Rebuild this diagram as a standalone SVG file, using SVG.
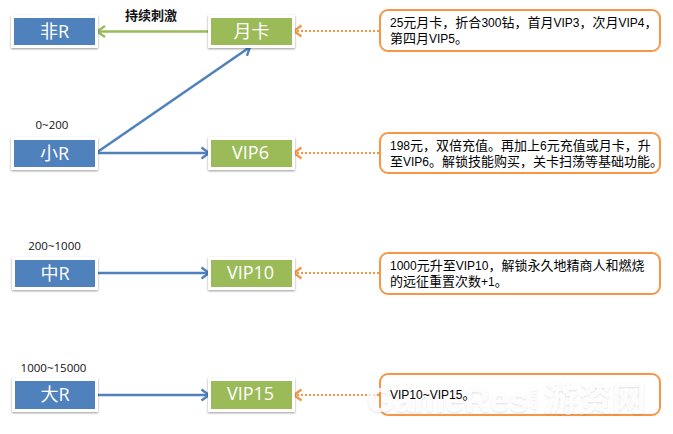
<svg xmlns="http://www.w3.org/2000/svg" width="673" height="434" viewBox="0 0 673 434">
<style>
text{font-family:"Liberation Sans","Noto Sans CJK SC",sans-serif}
.frame{fill:#fff;filter:url(#sh)}
.b{fill:#4f81bd}
.g{fill:#9bbb59}
.nl{fill:#fff;font-size:18px;text-anchor:middle;font-family:"Open Sans","Noto Sans CJK SC",sans-serif}
.note{fill:#fff;stroke:#f79646;stroke-width:2}
.nt{fill:#000;font-size:13px;font-family:"Noto Sans CJK SC",sans-serif}
.nt tspan{font-size:12px;font-family:"Liberation Sans",sans-serif}
.rng{fill:#111;font-size:11.500px;text-anchor:middle;font-family:"Open Sans",sans-serif}
.bl{stroke:#4f81bd;stroke-width:2.600;fill:none;marker-end:url(#ab)}
.gr{stroke:#9bbb59;stroke-width:2.600;fill:none}
.or{stroke:#f79646;stroke-width:2.200;stroke-dasharray:2 2;fill:none;marker-end:url(#ao)}
.wm{fill:#fff;fill-opacity:.8;font-weight:700}
</style>
<defs>
<filter id="sh" x="-10%" y="-20%" width="120%" height="150%"><feDropShadow dx="0" dy="1" stdDeviation="1" flood-color="#000" flood-opacity=".4"/></filter>
<filter id="wm" x="-5%" y="-20%" width="110%" height="140%"><feDropShadow dx="0" dy="1" stdDeviation="1" flood-color="#000" flood-opacity=".16"/></filter>
<marker id="ab" markerUnits="userSpaceOnUse" markerWidth="12" markerHeight="14" refX="9.500" refY="7" orient="auto"><path d="M2 1.500L9.500 7L2 12.500" fill="none" stroke="#4f81bd" stroke-width="2.400"/></marker>
<marker id="ao" markerUnits="userSpaceOnUse" markerWidth="12" markerHeight="14" refX="9.500" refY="7" orient="auto"><path d="M2 1.500L9.500 7L2 12.500" fill="none" stroke="#f79646" stroke-width="2.400"/></marker>
</defs>
<g id="connectors">
<path class="gr" d="M210 31.500H97"/>
<path d="M105 26L97 31.500L105 37" fill="none" stroke="#9bbb59" stroke-width="2.400"/>
<path class="bl" d="M96 153L250 47"/>
<path class="bl" d="M96 153H209"/>
<path class="bl" d="M96 273H209"/>
<path class="bl" d="M96 395H209"/>
<path class="or" d="M379 31H294"/>
<path class="or" d="M379 153H294"/>
<path class="or" d="M379 273H294"/>
<path class="or" d="M379 395H294"/>
</g>
<g id="node-feir"><rect class="frame" x="11" y="15" width="87" height="33"/><rect class="b" x="14" y="18" width="81" height="27"/><text class="nl" x="54.500" y="38">非R</text></g>
<g id="node-yueka"><rect class="frame" x="208" y="15" width="87" height="33"/><rect class="g" x="211" y="18" width="81" height="27"/><text class="nl" x="251.500" y="38">月卡</text></g>
<g id="node-xiaor"><rect class="frame" x="11" y="137" width="87" height="33"/><rect class="b" x="14" y="140" width="81" height="27"/><text class="nl" x="54.500" y="160">小R</text></g>
<g id="node-vip6"><rect class="frame" x="208" y="137" width="87" height="33"/><rect class="g" x="211" y="140" width="81" height="27"/><text class="nl" x="250.500" y="159">VIP6</text></g>
<g id="node-zhongr"><rect class="frame" x="12" y="257" width="86" height="33"/><rect class="b" x="15" y="260" width="80" height="27"/><text class="nl" x="55" y="280">中R</text></g>
<g id="node-vip10"><rect class="frame" x="208" y="257" width="87" height="33"/><rect class="g" x="211" y="260" width="81" height="27"/><text class="nl" x="250.500" y="279">VIP10</text></g>
<g id="node-dar"><rect class="frame" x="12" y="378" width="86" height="34"/><rect class="b" x="15" y="381" width="80" height="28"/><text class="nl" x="55" y="401">大R</text></g>
<g id="node-vip15"><rect class="frame" x="208" y="378" width="87" height="34"/><rect class="g" x="211" y="381" width="81" height="28"/><text class="nl" x="250.500" y="400">VIP15</text></g>
<text x="151" y="20" font-size="13" font-weight="700" fill="#111" text-anchor="middle" style="font-family:'Noto Sans CJK SC',sans-serif">持续刺激</text>
<text class="rng" x="52" y="129">0~200</text>
<text class="rng" x="54.500" y="250">200~1000</text>
<text class="rng" x="53.500" y="372">1000~15000</text>
<g id="note-1"><rect class="note" x="380" y="10" width="280" height="41" rx="8"/><text class="nt" x="390" y="27"><tspan>25</tspan>元月卡，折合<tspan>300</tspan>钻，首月<tspan>VIP3</tspan>，次月<tspan>VIP4</tspan>，</text><text class="nt" x="390" y="43">第四月<tspan>VIP5</tspan>。</text></g>
<g id="note-2"><rect class="note" x="380" y="133" width="280" height="40" rx="8"/><text class="nt" x="390" y="150"><tspan>198</tspan>元，双倍充值。再加上<tspan>6</tspan>元充值或月卡，升</text><text class="nt" x="390" y="166">至<tspan>VIP6</tspan>。解锁技能购买，关卡扫荡等基础功能。</text></g>
<g id="note-3"><rect class="note" x="380" y="253" width="280" height="41" rx="8"/><text class="nt" x="390" y="270"><tspan>1000</tspan>元升至<tspan>VIP10</tspan>，解锁永久地精商人和燃烧</text><text class="nt" x="390" y="286">的远征重置次数<tspan>+1</tspan>。</text></g>
<g id="note-4"><rect class="note" x="380" y="374" width="280" height="41" rx="8"/>
<g id="watermark" filter="url(#wm)"><text class="wm" x="367" y="412" font-size="35">GameRes</text><text class="wm" x="0" y="0" font-size="10" transform="translate(537 412) rotate(-90)">.com</text><text class="wm" x="544" y="411" font-size="34" style="font-family:'Noto Sans CJK SC',sans-serif">游资网</text></g>
<text class="nt" x="390" y="399"><tspan>VIP10~VIP15</tspan>。</text></g>
</svg>
